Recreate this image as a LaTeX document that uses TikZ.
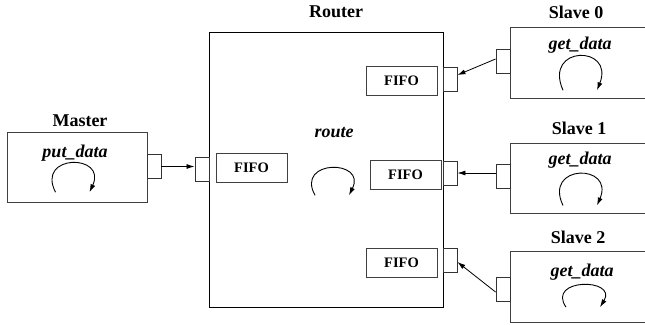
\documentclass[tikz,border=0pt]{standalone}
\usepackage{fontspec}
\setmainfont{Liberation Serif}
\usetikzlibrary{arrows.meta}
\tikzset{
  box/.style={draw=black!75, line width=0.9pt, inner sep=0pt, fill=white},
  rbox/.style={draw=black, line width=1pt, inner sep=0pt},
  port/.style={draw=black!80, line width=0.9pt, inner sep=0pt, minimum width=14pt, minimum height=24pt, fill=white},
  fifo/.style={draw=black!75, line width=0.9pt, inner sep=0pt, minimum width=71pt, minimum height=29pt, font=\fontsize{14.5}{16}\selectfont\bfseries},
  title/.style={inner sep=0pt, font=\fontsize{18}{20}\selectfont\bfseries},
  proc/.style={inner sep=0pt, font=\fontsize{18}{20}\selectfont\bfseries\itshape},
  conn/.style={line width=0.8pt, -{Latex[length=8pt,width=5pt]}},
  loop/.pic={\draw[line width=0.9pt, -{Latex[length=8pt,width=5pt]}] (-16,16) .. controls (-36,-26) and (36,-26) .. (18,16);}
}
\begin{document}
\begin{tikzpicture}[x=1pt,y=-1pt]
\useasboundingbox (0,0) rectangle (645,324);
% Router
\node[rbox, minimum width=234pt, minimum height=275pt] (router) at (326,169.5) {};
\node[title] (routerlbl) at (336,12) {Router};
\node[proc] (routetxt) at (334,133) {route};
\pic[yscale=0.86] at (331,181.5) {loop};
% Master
\node[box, minimum width=140pt, minimum height=70pt] (master) at (77,167) {};
\node[title] (masterlbl) at (80,121) {Master};
\node[proc] (puttxt) at (75,153) {put\_data};
\pic[yscale=0.92] at (71.5,177.5) {loop};
\node[port] (mport) at (154,166.5) {};
% router ports and fifos
\node[port] (rportm) at (202,169.5) {};
\node[fifo] (fifom) at (251.5,167.5) {FIFO};
\node[port] (rport0) at (450,79) {};
\node[fifo] (fifo0) at (401.5,80.5) {FIFO};
\node[port] (rport1) at (450,173) {};
\node[fifo] (fifo1) at (405.5,175) {FIFO};
\node[port] (rport2) at (450,260) {};
\node[fifo] (fifo2) at (401.5,262.5) {FIFO};
% Slaves
\node[box, minimum width=140pt, minimum height=71pt] (slave0) at (580,62.5) {};
\node[title] (s0lbl) at (576,12) {Slave 0};
\node[proc] (g0) at (580,45) {get\_data};
\pic[yscale=1.08] at (579,73) {loop};
\node[port] (sport0) at (503,61) {};

\node[box, minimum width=140pt, minimum height=70pt] (slave1) at (580,178) {};
\node[title] (s1lbl) at (579,128) {Slave 1};
\node[proc] (g1) at (580,160) {get\_data};
\pic at (579,189.5) {loop};
\node[port] (sport1) at (503,176.5) {};

\node[box, minimum width=140pt, minimum height=71pt] (slave2) at (580,286.5) {};
\node[title] (s2lbl) at (578,237) {Slave 2};
\node[proc] (g2) at (582,272) {get\_data};
\pic[yscale=0.7] at (582,296) {loop};
\node[port] (sport2) at (503,289) {};
% connectors
\draw[conn] (mport.east) -- (rportm.west |- mport.east);
\draw[conn] ([yshift=2pt]sport0.west) -- ([yshift=4pt]rport0.east);
\draw[conn] (sport1.west |- rport1.east) -- (rport1.east);
\draw[conn] ([yshift=-3pt]sport2.west) -- ([yshift=-2pt]rport2.east);
\end{tikzpicture}
\end{document}
